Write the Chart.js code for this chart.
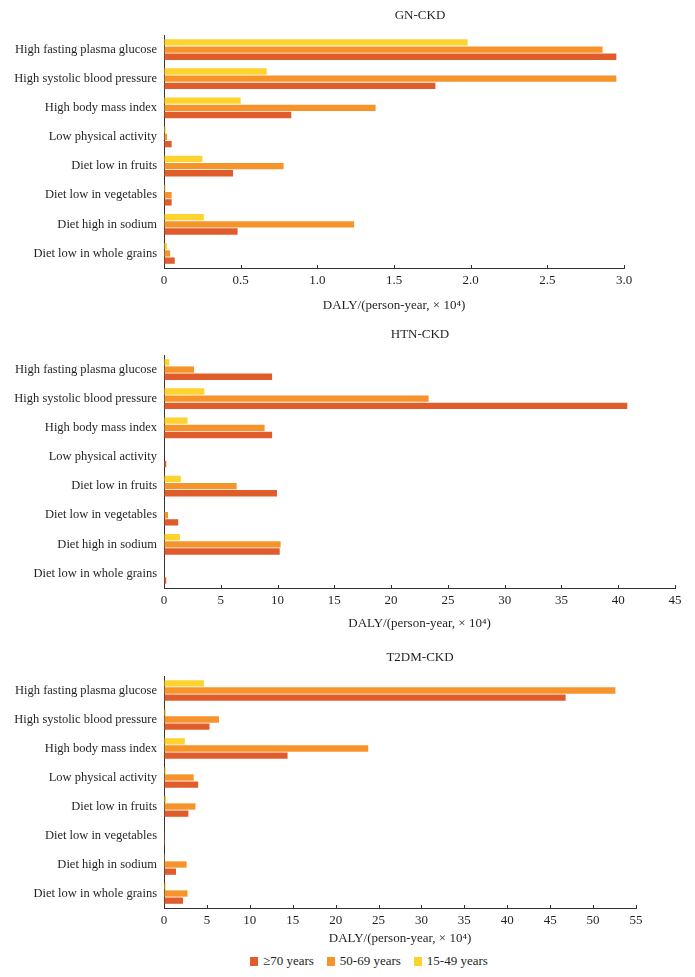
<!DOCTYPE html>
<html>
<head>
<meta charset="utf-8">
<script src="https://cdn.jsdelivr.net/npm/chart.js@4.4.1/dist/chart.umd.min.js"></script>
<style>
  html, body { margin: 0; padding: 0; background: #fff; }
  body { width: 695px; height: 977px; position: relative; overflow: hidden; font-family: "Liberation Serif", serif; color: #231f20; }
  canvas { position: absolute; left: 0; }
  #legend { position: absolute; top: 953px; left: 250px; display: flex; align-items: center; font-size: 13px; white-space: nowrap; }
  #legend span.box { display: inline-block; width: 8px; height: 9px; margin-right: 5px; }
  #legend span.item { display: inline-flex; align-items: center; margin-right: 13px; }
</style>
</head>
<body>
<canvas id="gn" width="695" height="320" style="top:0px"></canvas>
<canvas id="htn" width="695" height="320" style="top:320px"></canvas>
<canvas id="t2dm" width="695" height="310" style="top:640px"></canvas>
<div id="legend"></div>
<script>
// risk factors (top to bottom)
const categories = [
  'High fasting plasma glucose',
  'High systolic blood pressure',
  'High body mass index',
  'Low physical activity',
  'Diet low in fruits',
  'Diet low in vegetables',
  'Diet high in sodium',
  'Diet low in whole grains'
];
const ageGroups = ['15-49 years', '50-69 years', '≥70 years'];

// GN-CKD, DALY x10^4
const gnAge15 = [1.98, 0.67, 0.50, 0.01, 0.25, 0.01, 0.26, 0.02];
const gnAge50 = [2.86, 2.95, 1.38, 0.02, 0.78, 0.05, 1.24, 0.04];
const gnAge70 = [2.95, 1.77, 0.83, 0.05, 0.45, 0.05, 0.48, 0.07];
const gnTicks = ['0', '0.5', '1.0', '1.5', '2.0', '2.5', '3.0'];

// HTN-CKD
const htnAge15 = [0.47, 3.55, 2.07, 0, 1.48, 0.05, 1.40, 0];
const htnAge50 = [2.65, 23.3, 8.86, 0, 6.40, 0.35, 10.27, 0.05];
const htnAge70 = [9.52, 40.8, 9.52, 0.20, 9.95, 1.25, 10.19, 0.20];
const htnTicks = ['0', '5', '10', '15', '20', '25', '30', '35', '40', '45'];

// T2DM-CKD
const t2dmAge15 = [4.65, 0.20, 2.43, 0.20, 0.25, 0.05, 0.02, 0.20];
const t2dmAge50 = [52.6, 6.40, 23.8, 3.46, 3.67, 0.08, 2.64, 2.74];
const t2dmAge70 = [46.8, 5.30, 14.4, 3.98, 2.84, 0.12, 1.40, 2.22];
const t2dmTicks = ['0', '5', '10', '15', '20', '25', '30', '35', '40', '45', '50', '55'];

const colors = ['#fdd32f', '#f7932b', '#e05c2a'];
const ink = '#231f20';
const serif = '"Liberation Serif", "Times New Roman", serif';

// small title above each panel, fixed x like the original figure
const panelTitle = {
  id: 'panelTitle',
  afterDraw(chart, args, opts) {
    const ctx = chart.ctx;
    ctx.save();
    ctx.font = '13px ' + serif;
    ctx.fillStyle = ink;
    ctx.textAlign = 'center';
    ctx.textBaseline = 'middle';
    ctx.fillText(opts.text, opts.x, opts.y);
    ctx.restore();
  }
};

// tick marks pointing up into the plot
const innerTicks = {
  id: 'innerTicks',
  afterDraw(chart) {
    const x = chart.scales.x, ctx = chart.ctx;
    const y0 = chart.chartArea.bottom;
    ctx.save();
    ctx.strokeStyle = '#333';
    ctx.lineWidth = 1;
    x.ticks.forEach(t => {
      const px = Math.round(x.getPixelForValue(t.value)) + 0.5;
      ctx.beginPath();
      ctx.moveTo(px, y0);
      ctx.lineTo(px, y0 - 3);
      ctx.stroke();
    });
    ctx.restore();
  }
};

function makeChart(id, title, titleY, s15, s50, s70, tickLabels, max, step, cfg) {
  const series = [s15, s50, s70];
  new Chart(document.getElementById(id), {
    type: 'bar',
    data: {
      labels: categories,
      datasets: series.map((d, i) => ({
        label: ageGroups[i],
        data: d,
        backgroundColor: colors[i],
        categoryPercentage: 0.74,
        barPercentage: 0.88
      }))
    },
    options: {
      indexAxis: 'y',
      responsive: false,
      animation: false,
      layout: { padding: { top: cfg.top, right: cfg.right, bottom: 0, left: 0 } },
      plugins: {
        legend: { display: false },
        tooltip: { enabled: false },
        panelTitle: { text: title, x: 420, y: titleY }
      },
      scales: {
        y: {
          afterFit: s => { s.width = 164; },
          grid: { display: false, drawTicks: false },
          border: { display: true, color: '#333', width: 1 },
          ticks: { color: ink, padding: 7, font: { family: serif, size: 12.5 } }
        },
        x: {
          min: 0,
          max: max,
          afterFit: s => { s.height = cfg.axisH; },
          grid: { drawOnChartArea: false, drawTicks: false },
          border: { display: true, color: '#333', width: 1 },
          ticks: {
            stepSize: step,
            color: ink,
            padding: 5,
            maxRotation: 0,
            font: { family: serif, size: 13 },
            callback: (v, i) => tickLabels[i]
          },
          title: {
            display: true,
            text: 'DALY/(person-year, × 10⁴)',
            color: ink,
            font: { family: serif, size: 13 },
            padding: { top: 0, bottom: cfg.titlePad }
          }
        }
      }
    },
    plugins: [panelTitle, innerTicks]
  });
}

makeChart('gn', 'GN-CKD', 16, gnAge15, gnAge50, gnAge70, gnTicks, 3, 0.5,
  { top: 35, right: 71, axisH: 52, titlePad: 7 });
makeChart('htn', 'HTN-CKD', 15, htnAge15, htnAge50, htnAge70, htnTicks, 45, 5,
  { top: 35, right: 20, axisH: 52, titlePad: 9 });
makeChart('t2dm', 'T2DM-CKD', 18, t2dmAge15, t2dmAge50, t2dmAge70, t2dmTicks, 55, 5,
  { top: 36, right: 59, axisH: 42, titlePad: 4 });

// shared legend, oldest group first as in the figure
const legend = document.getElementById('legend');
[2, 1, 0].forEach(i => {
  const item = document.createElement('span');
  item.className = 'item';
  const box = document.createElement('span');
  box.className = 'box';
  box.style.background = colors[i];
  item.appendChild(box);
  item.appendChild(document.createTextNode(ageGroups[i]));
  legend.appendChild(item);
});
</script>
</body>
</html>
